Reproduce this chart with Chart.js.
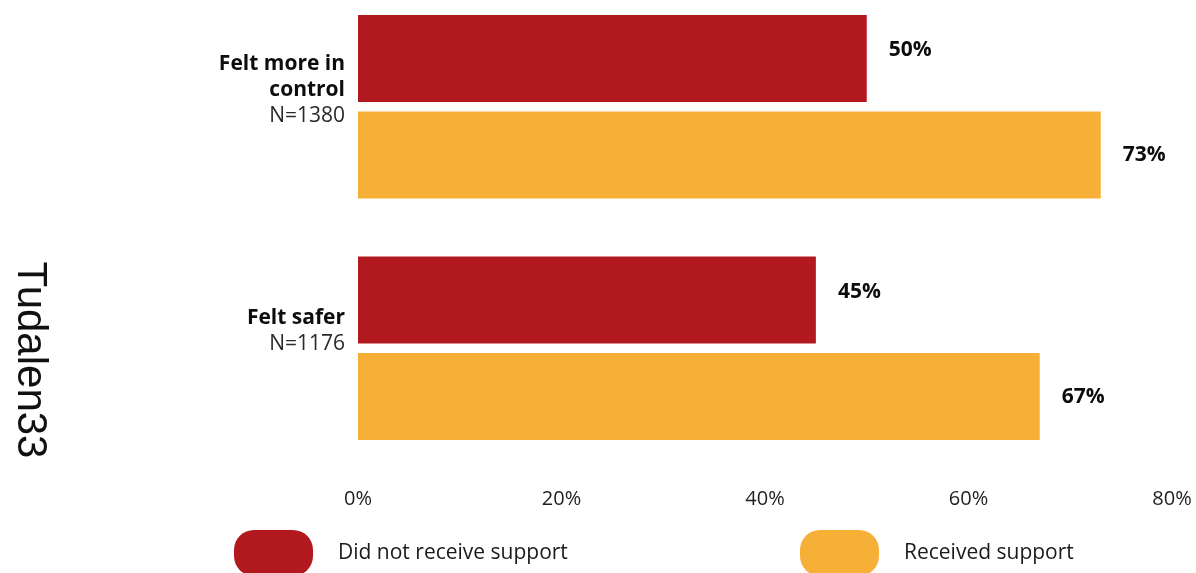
<!DOCTYPE html>
<html><head><meta charset="utf-8">
<script src="https://cdn.jsdelivr.net/npm/chart.js@4"></script>
<style>
html,body{margin:0;padding:0;width:1196px;height:573px;overflow:hidden;background:#fff}
#wrap{position:absolute;left:0;top:-14px;width:1196px;height:587px}
</style></head>
<body>
<div id="wrap"><canvas id="c"></canvas></div>
<script>
const categoryLines = [["Felt more in", "control"], ["Felt safer"]];
const sampleSizes = ["N=1380", "N=1176"];
const notReceived = [50, 45];
const received = [73, 67];
const xTicks = [0, 20, 40, 60, 80];
const seriesNames = ["Did not receive support", "Received support"];
const pageTitle = "Tudalen33";

const RED = "#B2191F", YELLOW = "#F7B037";
const FONT = "'Open Sans', sans-serif";

const overlay = {
  id: "overlay",
  afterDraw(chart) {
    const ctx = chart.ctx;
    const y = chart.scales.y, x = chart.scales.x;
    ctx.save();
    // category labels
    ctx.textAlign = "right";
    ctx.textBaseline = "middle";
    categoryLines.forEach((lines, i) => {
      const all = lines.length + 1;
      const cy = y.getPixelForValue(i) - 17;
      const lh = 26;
      const start = cy - (all - 1) * lh / 2;
      ctx.fillStyle = "#0d0d0d";
      ctx.font = "bold 21px " + FONT;
      lines.forEach((t, k) => ctx.fillText(t, x.left - 13, start + k * lh));
      ctx.fillStyle = "#2a2a2a";
      ctx.font = "21px " + FONT;
      ctx.fillText(sampleSizes[i], x.left - 13, start + lines.length * lh);
    });
    // value labels
    ctx.textAlign = "left";
    ctx.font = "bold 21px " + FONT;
    ctx.fillStyle = "#0d0d0d";
    chart.data.datasets.forEach((ds, di) => {
      const meta = chart.getDatasetMeta(di);
      meta.data.forEach((bar, i) => {
        const off = di === 0 ? -8 : 0;
        ctx.fillText(ds.data[i] + "%", bar.x + 22, bar.y + off);
      });
    });
    // legend
    const legendY = chart.height - 20;
    const items = [{x: 234}, {x: 800}];
    chart.data.datasets.forEach((ds, di) => {
      const lx = items[di].x;
      ctx.fillStyle = ds.backgroundColor;
      ctx.beginPath();
      ctx.roundRect(lx, legendY - 23, 79, 46, 20);
      ctx.fill();
      ctx.fillStyle = "#1a1a1a";
      ctx.font = "21px " + FONT;
      ctx.fillText(ds.label, lx + 104, legendY);
    });
    // rotated page title
    ctx.translate(30, 374);
    ctx.rotate(Math.PI / 2);
    ctx.textAlign = "center";
    ctx.textBaseline = "middle";
    ctx.font = "42px 'Liberation Sans', Arial, sans-serif";
    ctx.fillStyle = "#111";
    ctx.fillText(pageTitle, 0, 0);
    ctx.restore();
  }
};

new Chart(document.getElementById("c"), {
  type: "bar",
  data: {
    labels: categoryLines.map(l => l.join(" ")),
    datasets: [
      {label: seriesNames[0], data: notReceived, backgroundColor: RED},
      {label: seriesNames[1], data: received, backgroundColor: YELLOW}
    ]
  },
  options: {
    indexAxis: "y",
    responsive: true,
    maintainAspectRatio: false,
    animation: false,
    categoryPercentage: 0.8,
    barPercentage: 0.9,
    layout: {padding: {left: 358, right: 24, top: 0, bottom: 0}},
    plugins: {legend: {display: false}, tooltip: {enabled: false}},
    scales: {
      y: {display: false},
      x: {
        min: 0, max: 80,
        afterBuildTicks(s) { s.ticks = xTicks.map(v => ({value: v})); },
        afterFit(s) { s.height = 104; s.paddingLeft = 0; s.paddingRight = 0; },
        grid: {display: false, drawTicks: false},
        border: {display: false},
        ticks: {
          padding: 18,
          color: "#1f1f1f",
          font: {family: FONT, size: 20},
          callback: v => v + "%"
        }
      }
    }
  },
  plugins: [overlay]
});
</script>
</body></html>
